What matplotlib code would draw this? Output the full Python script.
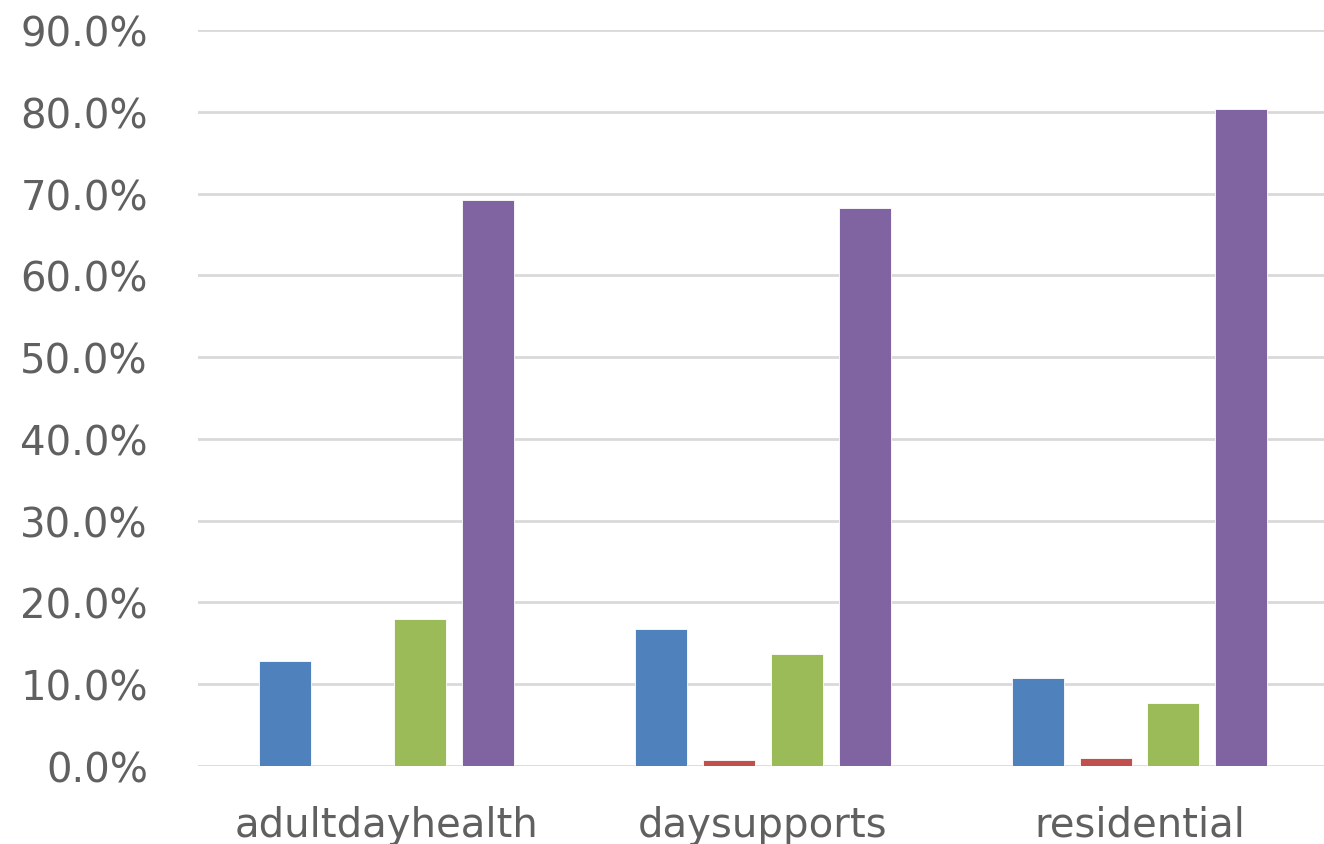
import matplotlib
matplotlib.use("Agg")
import matplotlib.pyplot as plt
import numpy as np
from matplotlib.ticker import FuncFormatter

categories = ["adultdayhealth", "daysupports", "residential"]
series_blue = [12.8, 16.8, 10.8]
series_red = [0.0, 0.7, 1.0]
series_green = [18.0, 13.7, 7.7]
series_purple = [69.2, 68.2, 80.3]

colors = ["#4f81bd", "#c0504d", "#9bbb59", "#8064a2"]
all_series = [series_blue, series_red, series_green, series_purple]

fig = plt.figure(figsize=(13.24, 8.45), dpi=100)
ax = fig.add_axes([0.1495, 0.0923, 0.8505, 0.871])

x = np.arange(len(categories))
step = 0.18
width = 0.138
for i, (vals, c) in enumerate(zip(all_series, colors)):
    ax.bar(x + (i - 1.5) * step, vals, width, color=c, zorder=3,
           edgecolor="white", linewidth=0.6)

ax.set_ylim(0, 90)
ax.set_yticks(np.arange(0, 91, 10))
ax.yaxis.set_major_formatter(FuncFormatter(lambda v, _: f"{v:.1f}%"))
ax.set_xlim(-0.5, 2.49)
ax.set_xticks(x)
ax.set_xticklabels(categories)

ax.grid(axis="y", color="#d9d9d9", linewidth=2, zorder=0)
for s in ax.spines.values():
    s.set_visible(False)
ax.tick_params(axis="both", length=0, labelsize=29, colors="#606060")
ax.tick_params(axis="y", pad=36)
ax.tick_params(axis="x", pad=28)

fig.savefig("out.png", dpi=100)
